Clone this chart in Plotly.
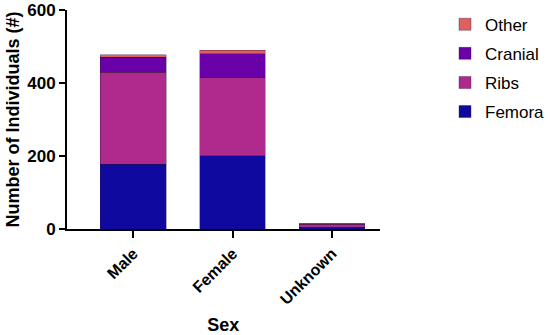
import plotly.graph_objects as go

sexes = ["Male", "Female", "Unknown"]
femora = [177, 201, 5]
ribs = [252, 214, 8]
cranial = [42, 65, 2]
other = [7, 10, 0]

# name, values, colour, legend position (top to bottom)
series = [
    ("Femora", femora, "#10099f", 4),
    ("Ribs", ribs, "#b02a8e", 3),
    ("Cranial", cranial, "#6a00a8", 2),
    ("Other", other, "#e0605f", 1),
]

fig = go.Figure()
for name, vals, col, rank in series:
    fig.add_trace(
        go.Bar(
            x=sexes,
            y=vals,
            name=name,
            legendgroup=name,
            legendrank=rank,
            marker=dict(color=col, line=dict(color="rgba(40,20,60,0.6)", width=0.6)),
            width=0.66,
        )
    )

fig.update_layout(
    barmode="stack",
    width=550,
    height=335,
    margin=dict(l=67, r=0, t=10, b=106),
    plot_bgcolor="white",
    paper_bgcolor="white",
    font=dict(family="Liberation Sans, Arial, sans-serif", color="black"),
    legend=dict(
        x=0.786, y=1.015, xanchor="left", yanchor="top",
        traceorder="grouped",
        font=dict(size=17, color="black"),
        tracegroupgap=4,
    ),
    xaxis=dict(
        domain=[0, 0.65],
        range=[-0.667, 2.48],
        automargin=False,
        showline=True, linecolor="black", linewidth=2,
        ticks="outside", ticklen=7, tickwidth=2, tickcolor="black",
        tickangle=-45,
        tickfont=dict(size=16, weight="bold"),
        title=dict(text="<b>Sex</b>", font=dict(size=18), standoff=14),
        showgrid=False,
    ),
    yaxis=dict(
        range=[0, 600],
        automargin=False,
        tickvals=[0, 200, 400, 600],
        ticklabeloverflow="allow",
        showline=True, linecolor="black", linewidth=2,
        ticks="outside", ticklen=6, tickwidth=2, tickcolor="black",
        tickfont=dict(size=17, weight="bold"),
        title=dict(text="<b>Number of Individuals (#)</b>", font=dict(size=18), standoff=3),
        showgrid=False, zeroline=False,
    ),
)

# page has a default 8px body margin; drop it so the figure fills the window
fig.write_html(
    "out.html",
    config={"displayModeBar": False},
    post_script="document.body.style.margin='0';",
)
